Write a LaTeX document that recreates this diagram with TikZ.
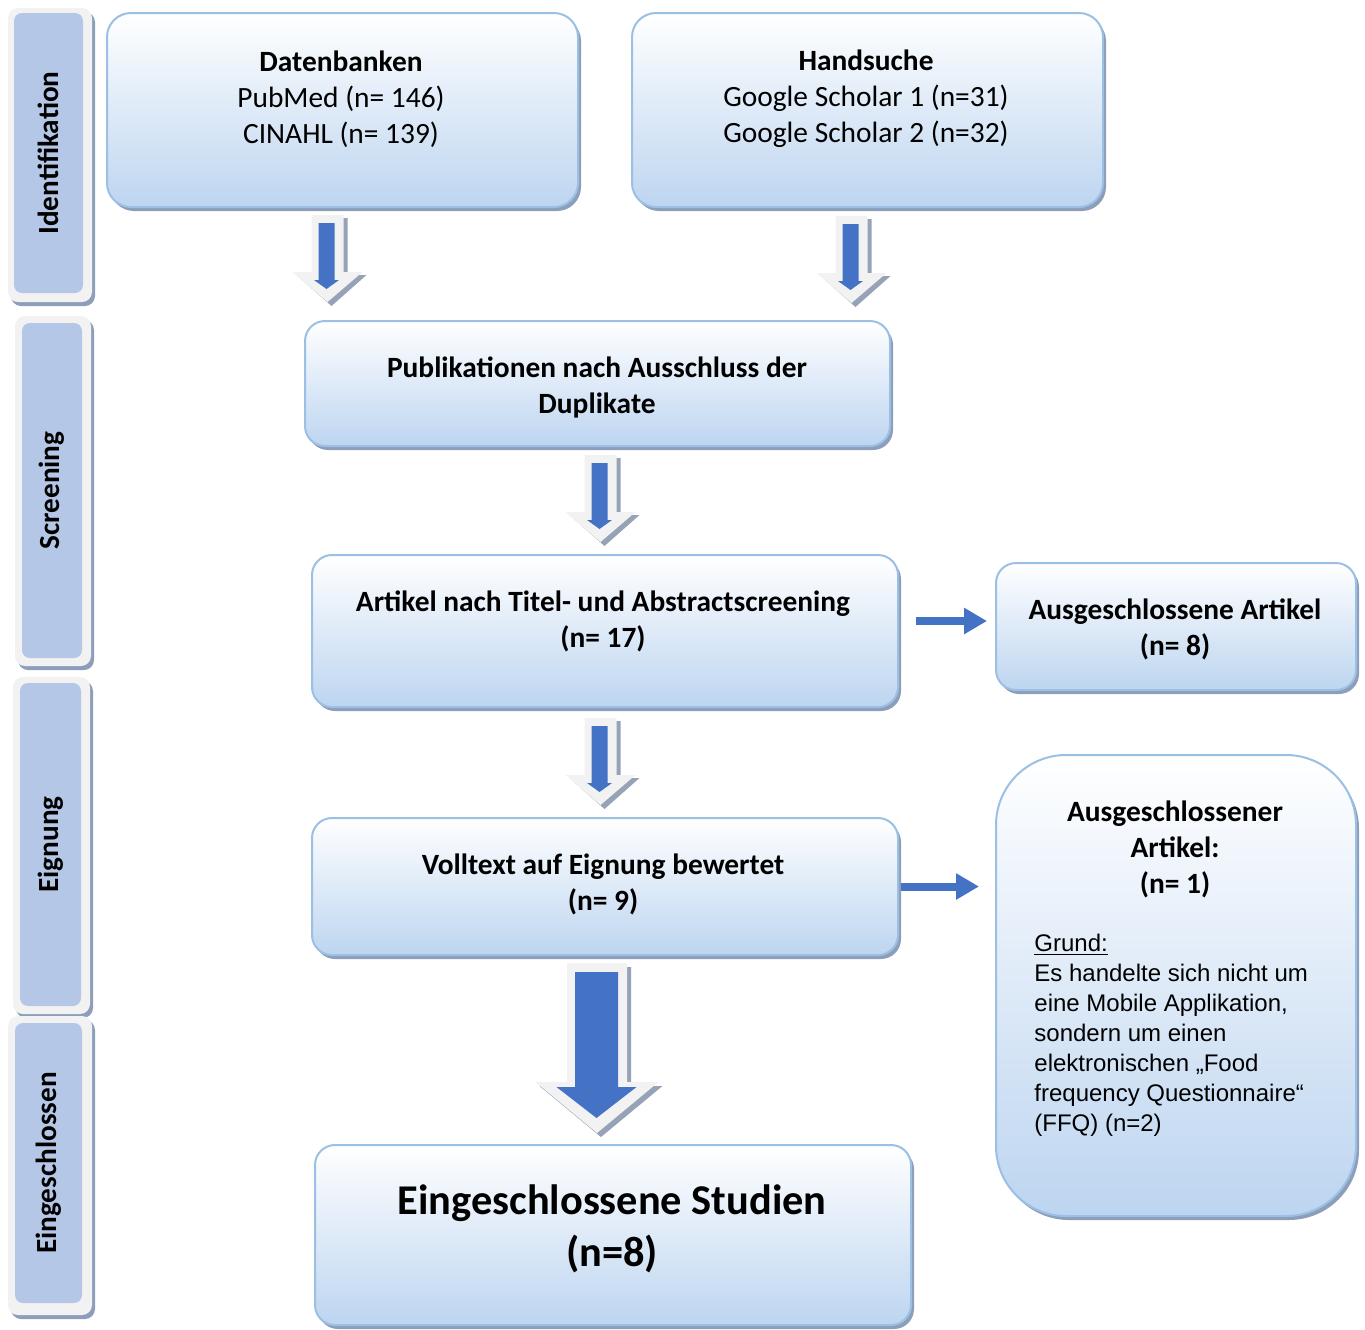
\documentclass[tikz,border=0pt]{standalone}
\usepackage{fontspec}
\setmainfont{Carlito}
\newfontfamily\arialfont{Liberation Sans}
\usetikzlibrary{shadows,fit,arrows.meta}
\definecolor{boxblue}{RGB}{189,213,240}
\definecolor{boxborder}{RGB}{155,192,228}
\definecolor{boxshadow}{RGB}{140,158,186}
\definecolor{barblue}{RGB}{180,199,231}
\definecolor{barframe}{RGB}{242,242,242}
\definecolor{arrowblue}{RGB}{68,114,196}
\definecolor{arrowlight}{RGB}{242,242,242}
\definecolor{arrowshade}{RGB}{150,162,182}
\tikzset{
  box/.style={draw=boxborder, line width=1pt, top color=white, bottom color=boxblue,
    rounded corners=12pt, inner sep=0pt,
    drop shadow={shadow xshift=1.5pt, shadow yshift=-2pt, fill=boxshadow, opacity=1}},
  barouter/.style={fill=barframe, rounded corners=5pt, inner sep=0pt,
    drop shadow={shadow xshift=1.5pt, shadow yshift=-2pt, fill=boxshadow, opacity=1}},
  barinner/.style={fill=barblue, rounded corners=4pt, inner sep=0pt},
  barlabel/.style={rotate=90, font=\bfseries\fontsize{14.6pt}{18pt}\selectfont, inner sep=0pt},
  boxtext/.style={align=center, font=\fontsize{14.7pt}{18pt}\selectfont, inner sep=0pt},
  boldtext/.style={boxtext, font=\bfseries\fontsize{14.7pt}{18pt}\selectfont},
  bigtext/.style={align=center, font=\bfseries\fontsize{21.2pt}{26pt}\selectfont, inner sep=0pt},
  reasontext/.style={align=left, font=\arialfont\fontsize{12pt}{15pt}\selectfont, inner sep=0pt},
  thinarrow/.style={draw=arrowblue, line width=4pt, -{Triangle[length=11.5pt,width=12.5pt]}},
  arrowlightfill/.style={fill=arrowlight},
  arrowshadefill/.style={fill=arrowshade},
  arrowbluefill/.style={fill=arrowblue}
}
\newcommand\smallblockarrow[2]{%
  \begin{scope}[shift={(#1,#2)}]
    \fill[arrowshadefill] (-12,3) -- (20,3) -- (20,60) -- (39,60) -- (4,91) -- (-31,60) -- (-12,60) -- cycle;
    \fill[arrowlightfill] (-16,0) -- (16,0) -- (16,57) -- (35,57) -- (0,87) -- (-35,57) -- (-16,57) -- cycle;
    \fill[arrowbluefill] (-9,8) -- (7,8) -- (7,65) -- (11.5,65) -- (-1,74) -- (-13.5,65) -- (-9,65) -- cycle;
  \end{scope}}
\begin{document}
\begin{tikzpicture}[x=0.5pt,y=-0.5pt]
\useasboundingbox (0,0) rectangle (1365,1329);
% side bars
\node[barouter, fit={(8,8) (92,302)}] (barA) {};
\node[barinner, fit={(14,13) (83,293)}] (barAi) {};
\node[barlabel] (labA) at (barAi.center) {Identifikation};
\node[barouter, fit={(15,316) (91,666)}] (barB) {};
\node[barinner, fit={(22,323) (82,658)}] (barBi) {};
\node[barlabel] (labB) at (barBi.center) {Screening};
\node[barouter, fit={(13,677) (90,1014)}] (barC) {};
\node[barinner, fit={(20,683) (81,1006)}] (barCi) {};
\node[barlabel] (labC) at (barCi.center) {Eignung};
\node[barouter, fit={(8,1016) (92,1315)}] (barD) {};
\node[barinner, fit={(15,1023) (82,1303)}] (barDi) {};
\node[barlabel] (labD) at (barDi.center) {Eingeschlossen};
% boxes
\node[box, fit={(107,13) (578,207)}] (db) {};
\node[box, fit={(632,13) (1103,207)}] (hs) {};
\node[box, rounded corners=10pt, fit={(305,321) (890,446)}] (pub) {};
\node[box, rounded corners=10pt, fit={(312,555) (898,707)}] (art) {};
\node[box, rounded corners=10pt, fit={(996,563) (1356,690)}] (aus1) {};
\node[box, rounded corners=10pt, fit={(312,818) (898,955)}] (vol) {};
\node[box, rounded corners=35pt, fit={(996,755) (1356,1216)}] (aus2) {};
\node[box, rounded corners=10pt, fit={(315,1145) (911,1325)}] (inc) {};
% texts
\node[boxtext] (dbt) at (341,99) {\textbf{Datenbanken}\\PubMed (n= 146)\\CINAHL (n= 139)};
\node[boxtext] (hst) at (866,99) {\textbf{Handsuche}\\Google Scholar 1 (n=31)\\Google Scholar 2 (n=32)};
\node[boldtext] (pubt) at (597,387) {Publikationen nach Ausschluss der\\Duplikate};
\node[boldtext] (artt) at (603,621) {Artikel nach Titel- und Abstractscreening\\(n= 17)};
\node[boldtext] (aus1t) at (1175,629.5) {Ausgeschlossene Artikel\\(n= 8)};
\node[boldtext] (volt) at (603,884) {Volltext auf Eignung bewertet\\(n= 9)};
\node[boldtext] (aus2t) at (1175,849) {Ausgeschlossener\\Artikel:\\(n= 1)};
\node[reasontext, anchor=west] (aus2r) at (1034,1035) {\underline{Grund:}\\Es handelte sich nicht um\\eine Mobile Applikation,\\sondern um einen\\elektronischen „Food\\frequency Questionnaire“\\(FFQ) (n=2)};
\node[bigtext] (inct) at (612,1229) {Eingeschlossene Studien\\(n=8)};
% block arrows
\smallblockarrow{327.5}{215}
\smallblockarrow{851.5}{216}
\smallblockarrow{600.5}{455}
\smallblockarrow{600.5}{718}
\begin{scope}[shift={(597,963)}]
  \fill[arrowshadefill] (-26,4) -- (34,4) -- (34,123) -- (65.5,123) -- (4,174) -- (-57.5,123) -- (-26,123) -- cycle;
  \fill[arrowlightfill] (-30,0) -- (30,0) -- (30,119) -- (61.5,119) -- (0,170) -- (-61.5,119) -- (-30,119) -- cycle;
  \fill[arrowbluefill] (-22,9) -- (21,9) -- (21,124) -- (39.5,124) -- (-0.5,155) -- (-40.5,124) -- (-22,124) -- cycle;
\end{scope}
% thin arrows
\draw[thinarrow, shorten <=8.5pt, shorten >=4pt] ([yshift=5pt]art.east) -- ([yshift=5pt]art.east -| aus1.west);
\draw[thinarrow, shorten <=1pt, shorten >=8pt] (vol.east) -- (vol.east -| aus2.west);
\end{tikzpicture}
\end{document}
